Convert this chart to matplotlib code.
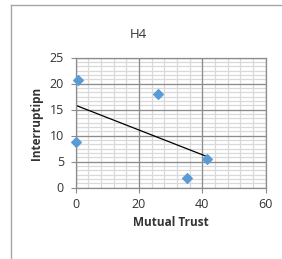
import numpy as np
import matplotlib
matplotlib.use("Agg")
import matplotlib.pyplot as plt
from matplotlib.lines import Line2D

plt.rcParams['font.family'] = ['Open Sans', 'DejaVu Sans']

# data
mutual_trust = [0.6, 0.0, 26.0, 35.2, 41.4]
interruption = [20.6, 8.7, 17.9, 1.9, 5.4]
x_ticks = [0, 20, 40, 60]
y_ticks = [0, 5, 10, 15, 20, 25]

W, H = 282, 259
fig = plt.figure(figsize=(W / 100, H / 100), dpi=100)
ax = fig.add_axes([75.7 / W, 1 - 187.5 / H, 190 / W, 130 / H])

ax.set_xlim(0, 60)
ax.set_ylim(0, 25)
ax.set_xticks(x_ticks)
ax.set_yticks(y_ticks)

# gridlines drawn by hand so the major ones sit on top of the minor ones
for xv in np.arange(0, 60.01, 4):
    ax.axvline(xv, color='#d9d9d9', lw=0.9, zorder=0.5)
for yv in np.arange(0, 25.01, 5 / 6):
    ax.axhline(yv, color='#d9d9d9', lw=0.9, zorder=0.5)
for xv in x_ticks:
    ax.axvline(xv, color='#8c8c8c', lw=0.9, zorder=0.6)
for yv in y_ticks:
    ax.axhline(yv, color='#8c8c8c', lw=0.9, zorder=0.6)

for s in ax.spines.values():
    s.set_color('#8c8c8c')
    s.set_linewidth(0.9)

ax.tick_params(direction='out', length=3.5, width=0.8, color='#8c8c8c',
               labelsize=9, labelcolor='#333333')
ax.tick_params(axis='y', pad=5)
ax.tick_params(axis='x', pad=4)

ax.scatter(mutual_trust, interruption, marker='D', s=24, color='#5b9bd5',
           zorder=3, clip_on=False)

# linear trendline
k, b = np.polyfit(mutual_trust, interruption, 1)
xs = np.array([min(mutual_trust), max(mutual_trust)])
ax.plot(xs, k * xs + b, color='black', lw=0.9, zorder=2)

fig.text(138 / W, 1 - 35 / H, 'H4', ha='center', va='center', fontsize=9.5,
         color='#333333')
fig.text(171 / W, 1 - 223 / H, 'Mutual Trust', ha='center', va='center',
         fontsize=8.5, fontweight='bold', color='#333333')
fig.text(37 / W, 1 - 123 / H, 'Interruptipn', ha='center', va='center',
         rotation=90, fontsize=8.5, fontweight='bold', color='#333333')

# chart area border (runs past the picture edge)
fig.add_artist(Line2D([10.5 / W, 10.5 / W], [0, 1 - 4.5 / H], color='#a6a6a6', lw=1))
fig.add_artist(Line2D([10.5 / W, 1], [1 - 4.5 / H, 1 - 4.5 / H], color='#a6a6a6', lw=1))

fig.savefig('out.png', dpi=100)
